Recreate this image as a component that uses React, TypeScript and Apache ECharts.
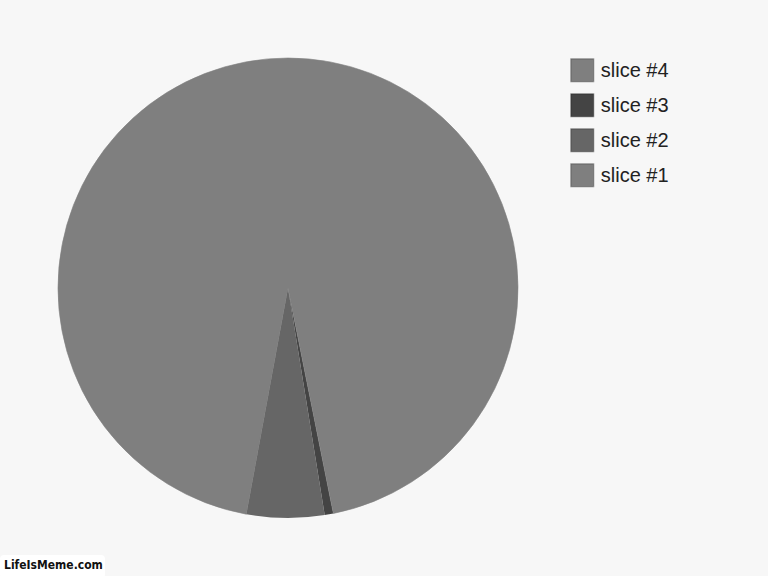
import React, { useRef, useEffect } from 'react';
import * as echarts from 'echarts';

const sliceNames = ['slice #1', 'slice #2', 'slice #3', 'slice #4'];
const sliceValues = [47.1, 5.45, 0.61, 46.84];
const sliceColors = ['#7f7f7f', '#666666', '#444444', '#7f7f7f'];
const legendOrder = ['slice #4', 'slice #3', 'slice #2', 'slice #1'];

const App: React.FC = () => {
  const chartRef = useRef<HTMLDivElement>(null);

  useEffect(() => {
    if (!chartRef.current) return;
    const myChart = echarts.init(chartRef.current, null, { renderer: 'svg' });

    const option: echarts.EChartsOption = {
      animation: false,
      backgroundColor: '#f7f7f7',
      legend: {
        orient: 'vertical',
        left: 565,
        top: 53,
        itemWidth: 23,
        itemHeight: 23,
        itemGap: 10.5,
        icon: 'rect',
        data: legendOrder,
        selectedMode: false,
        itemStyle: {
          borderColor: 'rgba(0,0,0,0.22)',
          borderWidth: 1.5
        },
        textStyle: {
          fontFamily: 'Liberation Sans, Arial, sans-serif',
          fontSize: 20,
          lineHeight: 23,
          color: '#222',
          padding: [0, 0, 0, 2]
        }
      },
      series: [
        {
          type: 'pie',
          center: [288, 288],
          radius: 230,
          startAngle: 90,
          clockwise: false,
          label: { show: false },
          labelLine: { show: false },
          emphasis: { disabled: true },
          data: sliceNames.map((name, i) => ({
            name,
            value: sliceValues[i],
            itemStyle: {
              color: sliceColors[i],
              borderColor: sliceColors[i],
              borderWidth: i === 0 || i === 3 ? 0.6 : 0
            }
          }))
        }
      ],
      graphic: [
        {
          type: 'rect',
          left: 0,
          top: 555,
          shape: { width: 105, height: 23, r: 4 },
          style: { fill: '#ffffff' }
        },
        {
          type: 'text',
          left: 4,
          top: 559,
          style: {
            text: 'LifeIsMeme.com',
            font: 'bold 12px "DejaVu Sans Condensed", "DejaVu Sans", sans-serif',
            fill: '#111'
          }
        }
      ]
    };

    myChart.setOption(option);
    return () => {
      myChart.dispose();
    };
  }, []);

  return (
    <div
      ref={chartRef}
      style={{ position: 'fixed', left: 0, top: 0, width: '768px', height: '576px' }}
    />
  );
};

export default App;
